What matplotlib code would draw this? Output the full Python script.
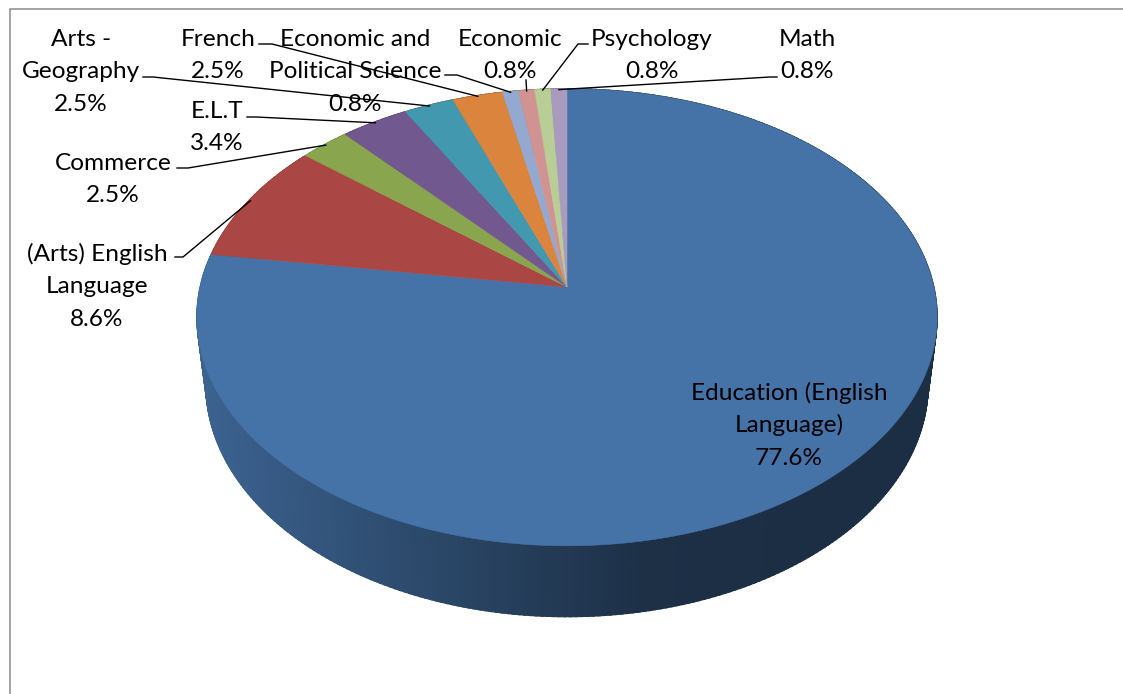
import numpy as np
import matplotlib
matplotlib.use("Agg")
import matplotlib.pyplot as plt
from matplotlib.colors import to_rgb

# ---- data -------------------------------------------------------------
categories = ["Education (English Language)", "(Arts) English Language",
              "Commerce", "E.L.T", "Arts - Geography", "French",
              "Economic and Political Science", "Economic", "Psychology",
              "Math"]
shares = [77.6, 8.6, 2.5, 3.4, 2.5, 2.5, 0.8, 0.8, 0.8, 0.8]
label_names = ["Education (English\nLanguage)", "(Arts) English\nLanguage",
               "Commerce", "E.L.T", "Arts -\nGeography", "French",
               "Economic and\nPolitical Science", "Economic", "Psychology",
               "Math"]

# ---- style ------------------------------------------------------------
colors = ["#4572A7", "#AA4643", "#89A54E", "#71588F", "#4198AF",
          "#DB843D", "#93A9CF", "#D19392", "#B9CD96", "#A99BBD"]
plt.rcParams["font.family"] = ["Lato", "DejaVu Sans"]
FONT_SIZE = 17.6
LINE_STEP = 32.3

# label layout: (x centre, first baseline, leader stub points or None)
label_layout = [
    (789, 400, None),
    (97, 261, [(175, 257), (183, 257)]),
    (113, 170, [(177, 168), (188, 168)]),
    (217, 118, [(247, 117), (256, 117)]),
    (81, 46, [(143, 77), (153, 77)]),
    (218, 46, [(259, 44), (272, 44)]),
    (355, 46, [(445, 75), (457, 75)]),
    (510, 46, [(526, 80)]),
    (652, 46, [(588, 44), (578, 44)]),
    (807, 46, [(777, 77), (770, 77)]),
]

# ---- 3-D pie projection (perspective view of a tilted disc) ------------
CX, CY = 567.0, 287.0
DIST = 5.977
COS_E, SIN_E = 0.791, 0.612
FOCAL = 2193.0
DEPTH = 0.24


def proj(phi_deg, z=0.0, r=1.0):
    phi = np.radians(phi_deg)
    X = r * np.cos(phi)
    Y = r * np.sin(phi)
    yc = Y * SIN_E + z * COS_E
    zc = DIST + Y * COS_E - z * SIN_E
    return CX + FOCAL * X / zc, CY - FOCAL * yc / zc


fig = plt.figure(figsize=(11.23, 6.94), dpi=100)
ax = fig.add_axes([0, 0, 1, 1])
ax.set_xlim(0, 1123)
ax.set_ylim(694, 0)
ax.axis("off")

# chart-area frame
ax.plot([10, 10, 1123], [694, 9, 9], color="#8a8a8a", lw=1.1,
        solid_joinstyle="miter", zorder=1)

vals = np.array(shares, dtype=float)
frac = vals / vals.sum()
edges = 90.0 - 360.0 * np.concatenate([[0.0], np.cumsum(frac)])


def side_shade(x):
    # lighter toward the left of the rim, darkening to the right
    if x <= 640:
        return 0.87 - 0.45 * np.clip((x - 200.0) / 440.0, 0.0, 1.0)
    return max(0.40, 0.42 - (x - 640) * 0.0001)


# side wall, drawn back-to-front as overlapping thin strips
strips = []
for i in range(len(vals)):
    a0, a1 = edges[i], edges[i + 1]
    n = max(2, int(abs(a0 - a1) / 0.8) + 1)
    angs = np.linspace(a0, a1, n)
    step = angs[1] - angs[0]
    for a, b in zip(angs[:-1], angs[1:]):
        b2 = b + 0.6 * step if b != angs[-1] else b
        pts = [proj(a, 0), proj(b2, 0), proj(b2, -DEPTH), proj(a, -DEPTH)]
        mid = 0.5 * (a + b)
        strips.append((np.sin(np.radians(mid)), pts, i))
strips.sort(key=lambda s: -s[0])
for _, pts, i in strips:
    xs = [p[0] for p in pts]
    k = side_shade(np.mean(xs))
    c = np.array(to_rgb(colors[i])) * k
    ax.fill(xs, [p[1] for p in pts], color=c, lw=0.8, ec=c, zorder=2)

# top face slices
for i in range(len(vals)):
    a0, a1 = edges[i], edges[i + 1]
    n = max(3, int(abs(a0 - a1) / 0.5) + 1)
    angs = np.linspace(a0, a1, n)
    rim = [proj(a) for a in angs]
    xs = [CX] + [p[0] for p in rim]
    ys = [CY] + [p[1] for p in rim]
    ax.fill(xs, ys, color=colors[i], lw=0.4, ec=colors[i], zorder=3)

# labels and leader lines
for i, (name, (lx, ly, stub)) in enumerate(zip(label_names, label_layout)):
    lines = name.split("\n") + [f"{shares[i]:.1f}%"]
    for j, line in enumerate(lines):
        ax.text(lx, ly + j * LINE_STEP, line, ha="center", va="baseline",
                fontsize=FONT_SIZE, color="black", zorder=5)
    if stub is not None:
        mid = 0.5 * (edges[i] + edges[i + 1])
        anchor = proj(mid, 0, 0.995)
        px = [p[0] for p in stub] + [anchor[0]]
        py = [p[1] for p in stub] + [anchor[1]]
        ax.plot(px, py, color="black", lw=1.0, zorder=6,
                solid_joinstyle="miter")

fig.savefig("out.png", dpi=100)
